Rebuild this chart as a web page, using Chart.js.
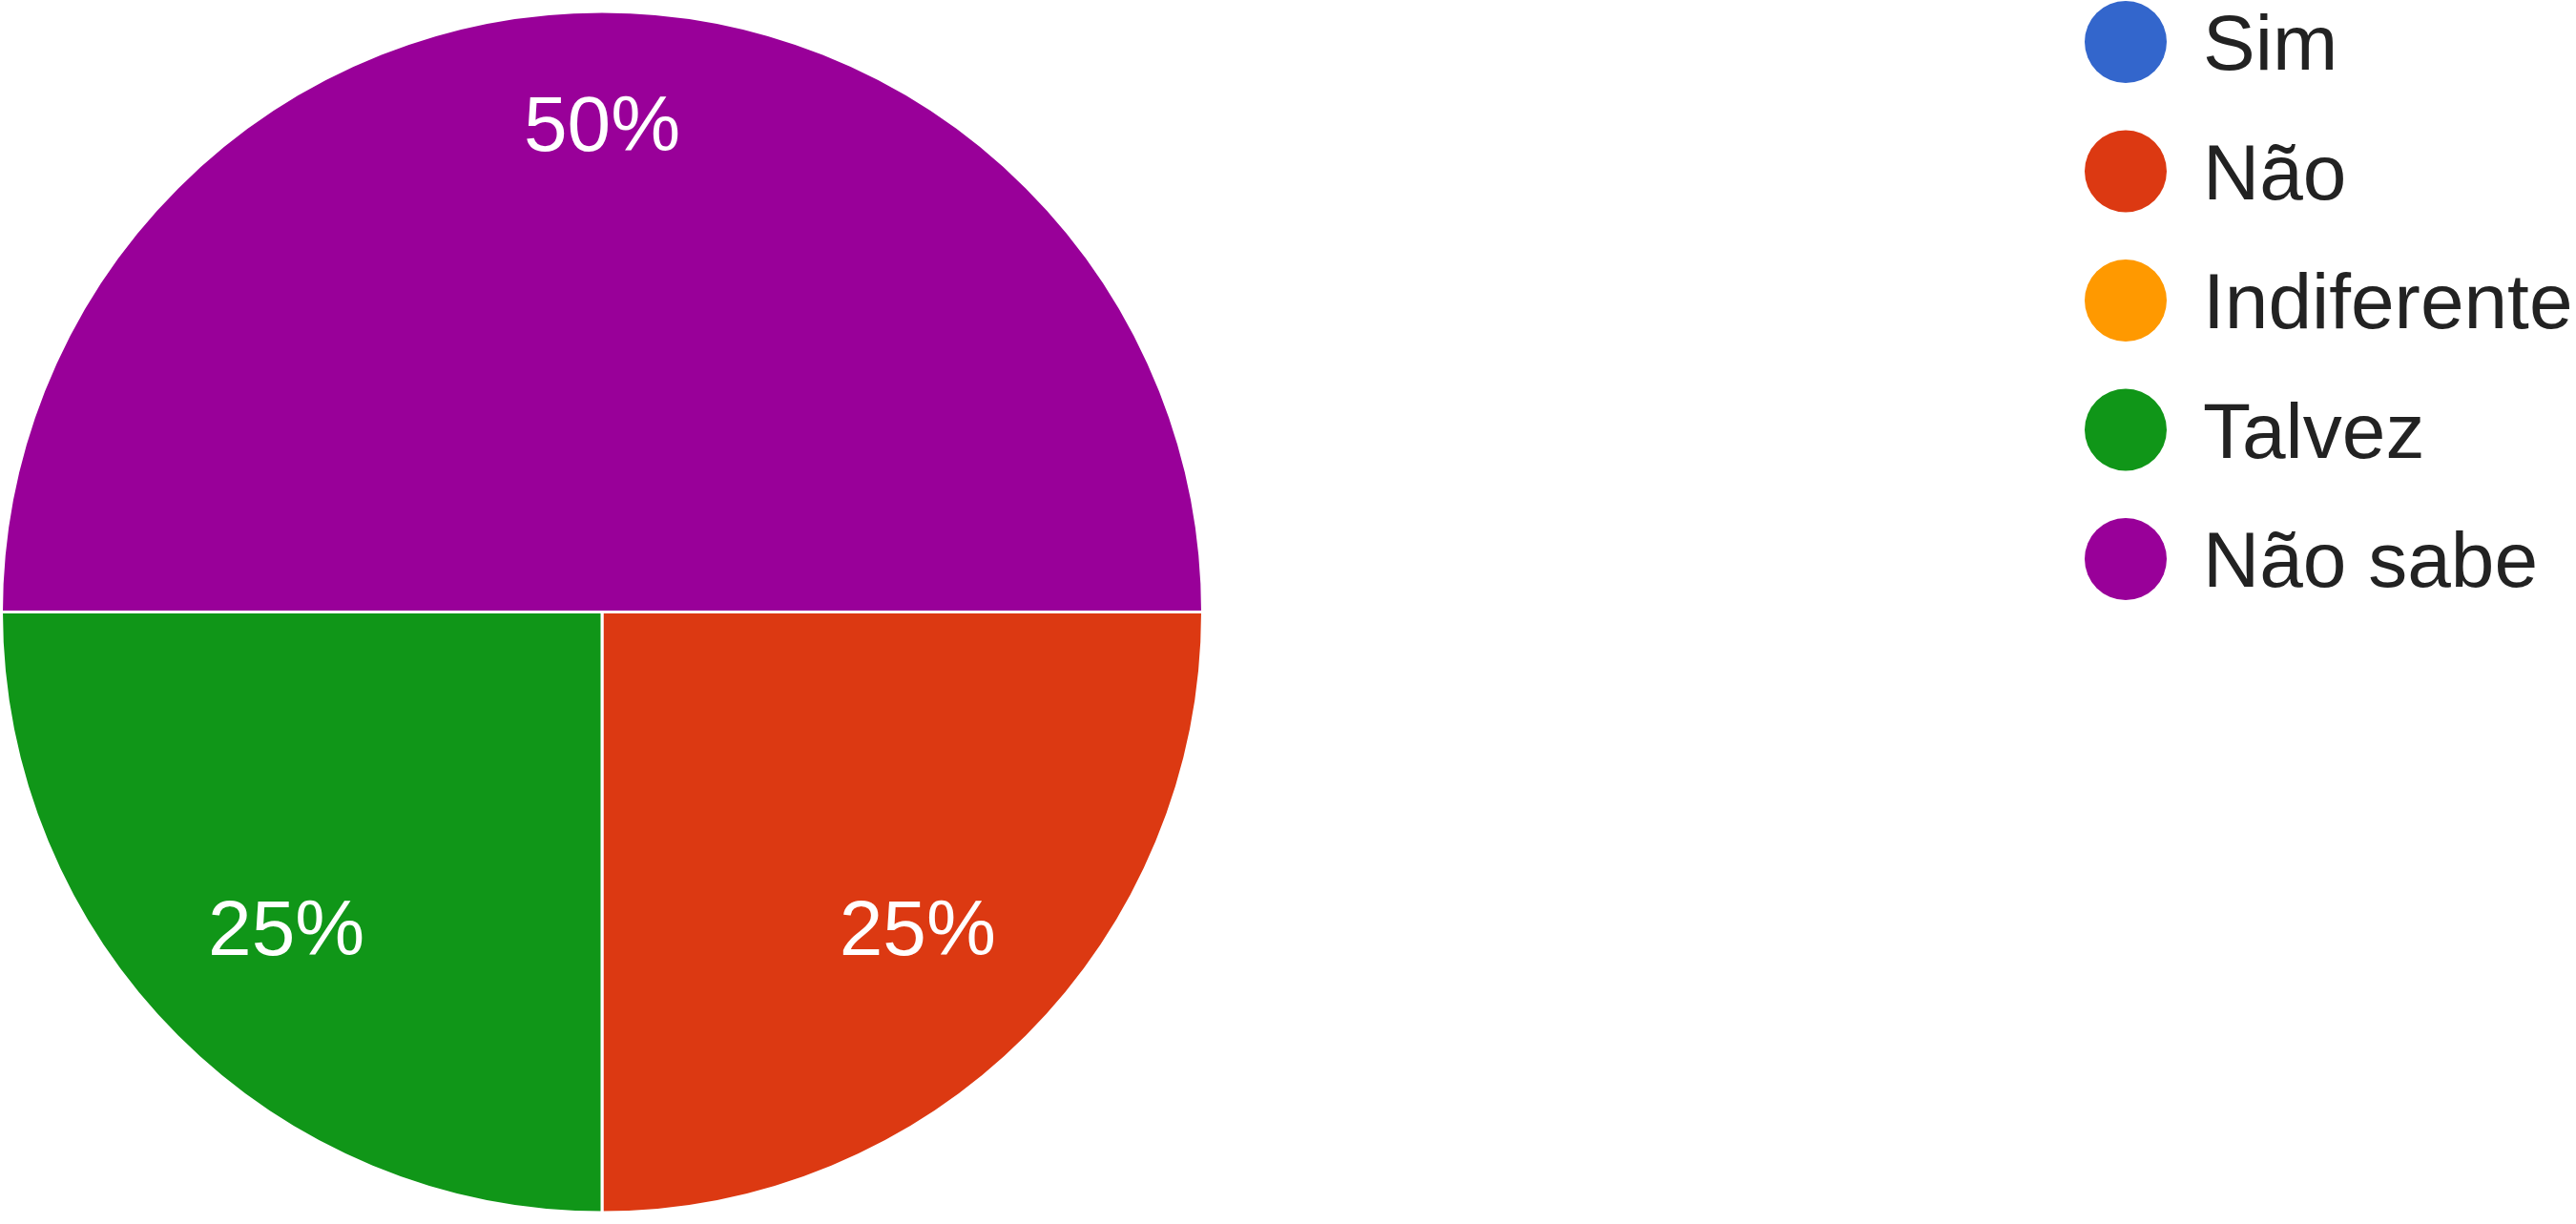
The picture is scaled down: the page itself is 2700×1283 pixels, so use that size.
<!DOCTYPE html>
<html lang="pt">
<head>
    <meta charset="UTF-8">
    <title>Respostas</title>
    <script src="https://cdn.jsdelivr.net/npm/chart.js"></script>
    <style>
        body {
            margin: 0;
            background: #fff;
        }
        .chart-container {
            position: relative;
            width: 2700px;
            height: 1283px;
        }
    </style>
</head>
<body>
    <div class="chart-container">
        <canvas id="pieChart"></canvas>
    </div>

    <script>
        // Answers and how many people picked each one
        var categories = ['Sim', 'Não', 'Indiferente', 'Talvez', 'Não sabe'];
        var counts = [0, 1, 0, 1, 2];
        var colors = ['#3366CC', '#DC3912', '#FF9900', '#109618', '#990099'];

        var FONT = "'Liberation Sans', Arial, sans-serif";

        // Percentage labels inside the slices (text box kept inside ~0.87 of radius)
        var sliceLabels = {
            id: 'sliceLabels',
            afterDatasetsDraw: function(chart) {
                var ctx = chart.ctx;
                var meta = chart.getDatasetMeta(0);
                var data = chart.data.datasets[0].data;
                var total = data.reduce(function(a, b) { return a + b; }, 0);
                ctx.save();
                ctx.font = '82px ' + FONT;
                ctx.fillStyle = '#ffffff';
                ctx.textAlign = 'center';
                ctx.textBaseline = 'alphabetic';
                meta.data.forEach(function(arc, i) {
                    if (!data[i]) return;
                    var p = arc.getProps(['x', 'y', 'startAngle', 'endAngle', 'outerRadius'], true);
                    var text = Math.round(data[i] / total * 100) + '%';
                    var a = ctx.measureText(text).width / 2;
                    var b = 29;
                    var mid = (p.startAngle + p.endAngle) / 2;
                    var c = Math.abs(Math.cos(mid)), s = Math.abs(Math.sin(mid));
                    var K = 0.87 * p.outerRadius;
                    var q = c * a + s * b;
                    var d = -q + Math.sqrt(q * q - (a * a + b * b - K * K));
                    var x = p.x + Math.cos(mid) * d;
                    var y = p.y + Math.sin(mid) * d;
                    ctx.fillText(text, x, y + b);
                });
                ctx.restore();
            }
        };

        // Legend on the right with round markers
        var sideLegend = {
            id: 'sideLegend',
            afterDraw: function(chart) {
                var ctx = chart.ctx;
                var labels = chart.data.labels;
                var bg = chart.data.datasets[0].backgroundColor;
                ctx.save();
                ctx.font = '82px ' + FONT;
                ctx.textAlign = 'left';
                ctx.textBaseline = 'alphabetic';
                labels.forEach(function(label, i) {
                    var cy = 44 + i * 135.5;
                    ctx.beginPath();
                    ctx.arc(2228, cy, 43, 0, Math.PI * 2);
                    ctx.fillStyle = bg[i];
                    ctx.fill();
                    ctx.fillStyle = '#222222';
                    ctx.fillText(label, 2309, cy + 29);
                });
                ctx.restore();
            }
        };

        var ctxPie = document.getElementById('pieChart').getContext('2d');
        var pieChart = new Chart(ctxPie, {
            type: 'pie',
            data: {
                labels: categories,
                datasets: [{
                    data: counts,
                    backgroundColor: colors,
                    borderColor: '#ffffff',
                    borderWidth: 3
                }]
            },
            options: {
                responsive: true,
                maintainAspectRatio: false,
                animation: false,
                rotation: 90,
                layout: {
                    padding: { left: 0, top: 0, bottom: 0, right: 1438 }
                },
                plugins: {
                    legend: { display: false },
                    tooltip: { enabled: false }
                }
            },
            plugins: [sliceLabels, sideLegend]
        });
    </script>
</body>
</html>
